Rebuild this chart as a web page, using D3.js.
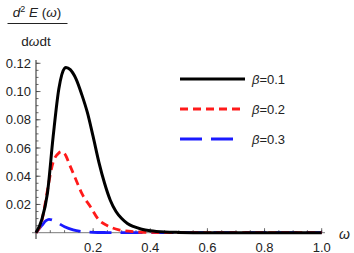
<!DOCTYPE html>
<html><head><meta charset="utf-8">
<script src="https://cdn.jsdelivr.net/npm/d3@7"></script>
<style>
body{margin:0;background:#fff;}
text{font-family:"Liberation Sans",Arial,sans-serif;}
</style></head>
<body><svg id="c" width="354" height="253"></svg>
<script>
const omega1 = [0,0.02,0.04,0.06,0.08,0.10,0.105,0.12,0.14,0.16,0.18,0.20,0.22,0.24,0.26,0.28,0.30,0.32,0.34,0.37,0.40,0.45,0.50,0.60,0.80,1.0];
const beta01 = [0,0.009,0.028,0.068,0.102,0.1165,0.117,0.1155,0.109,0.098,0.085,0.068,0.050,0.035,0.023,0.015,0.010,0.0065,0.0044,0.0025,0.0014,0.0005,0.0002,0,0,0];
const omega2 = [0,0.02,0.028,0.04,0.06,0.08,0.09,0.10,0.12,0.145,0.16,0.19,0.22,0.25,0.29,0.35,0.40,0.50,0.70,1.0];
const beta02 = [0,0.008,0.016,0.030,0.050,0.0565,0.0574,0.056,0.047,0.035,0.028,0.0185,0.009,0.005,0.002,0.0006,0.0002,0,0,0];
const omega3 = [0,0.02,0.035,0.0455,0.06,0.08,0.10,0.13,0.16,0.20,0.25,0.30,0.60,1.0];
const beta03 = [0,0.005,0.0085,0.0095,0.0088,0.0065,0.0042,0.002,0.0009,0.0003,0.0001,0,0,0];
const xTicks = [0.2,0.4,0.6,0.8,1.0];
const yTicks = [0.02,0.04,0.06,0.08,0.10,0.12];
const legendLabels = ["0.1","0.2","0.3"];

const svg = d3.select("#c");
const x = d3.scaleLinear().domain([0,1]).range([36,321.7]);
const y = d3.scaleLinear().domain([0,0.12]).range([232.7,63.3]);

// axes lines
svg.append("line").attr("x1",32).attr("x2",325).attr("y1",y(0)).attr("y2",y(0)).attr("stroke","#7a7a7a").attr("stroke-width",1);
svg.append("line").attr("x1",x(0)).attr("x2",x(0)).attr("y1",239).attr("y2",60).attr("stroke","#222").attr("stroke-width",1);

// x ticks
const xMinor = d3.range(0.05,1.001,0.05);
svg.selectAll(".xm").data(xMinor).enter().append("line")
  .attr("x1",d=>x(d)).attr("x2",d=>x(d)).attr("y1",y(0)).attr("y2",y(0)-2.5)
  .attr("stroke","#444").attr("stroke-width",0.8);
svg.selectAll(".xM").data(xTicks).enter().append("line")
  .attr("x1",d=>x(d)).attr("x2",d=>x(d)).attr("y1",y(0)).attr("y2",y(0)-4.5)
  .attr("stroke","#444").attr("stroke-width",0.8);
svg.selectAll(".xl").data(xTicks).enter().append("text")
  .attr("x",d=>x(d)).attr("y",251.5).attr("text-anchor","middle")
  .attr("font-size",13).attr("fill","#222").text(d=>d3.format(".1f")(d));

// y ticks
const yMinor = d3.range(0.005,0.1201,0.005);
svg.selectAll(".ym").data(yMinor).enter().append("line")
  .attr("x1",x(0)).attr("x2",x(0)+2.5).attr("y1",d=>y(d)).attr("y2",d=>y(d))
  .attr("stroke","#444").attr("stroke-width",0.8);
svg.selectAll(".yM").data(yTicks).enter().append("line")
  .attr("x1",x(0)).attr("x2",x(0)+4.5).attr("y1",d=>y(d)).attr("y2",d=>y(d))
  .attr("stroke","#444").attr("stroke-width",0.8);
svg.selectAll(".yl").data(yTicks).enter().append("text")
  .attr("x",31).attr("y",d=>y(d)+4.5).attr("text-anchor","end")
  .attr("font-size",13).attr("fill","#222").text(d=>d3.format(".2f")(d));

// curves
const series = [
  {w:omega1,v:beta01,color:"#000",dash:null,width:3,len:65},
  {w:omega2,v:beta02,color:"#ff1a1a",dash:"8,5",width:2.8,len:61},
  {w:omega3,v:beta03,color:"#1a1aff",dash:"22,9",width:2.8,len:54}
];
const line = d3.line().x(d=>x(d[0])).y(d=>y(d[1])).curve(d3.curveMonotoneX);
series.slice().reverse().forEach(s=>{
  svg.append("path").datum(s.w.map((w,i)=>[w,s.v[i]]))
    .attr("d",line).attr("fill","none").attr("stroke",s.color)
    .attr("stroke-width",s.width).attr("stroke-dasharray",s.dash);
});

// legend
series.forEach((s,i)=>{
  const ly = 79 + i*30;
  svg.append("line").attr("x1",180).attr("x2",180+s.len).attr("y1",ly).attr("y2",ly)
    .attr("stroke",s.color).attr("stroke-width",s.width).attr("stroke-dasharray",s.dash);
  const t = svg.append("text").attr("x",252).attr("y",ly+4.5).attr("font-size",13).attr("fill","#222");
  t.append("tspan").attr("font-style","italic").text("β");
  t.append("tspan").text("="+legendLabels[i]);
});

// axis labels
svg.append("text").attr("x",339).attr("y",239).attr("font-size",14).attr("font-style","italic").attr("fill","#222").text("ω");
const numer = svg.append("text").attr("x",37).attr("y",16.5).attr("text-anchor","middle").attr("font-size",13.5).attr("fill","#222");
numer.append("tspan").attr("font-style","italic").text("d");
numer.append("tspan").attr("font-size",9).attr("dy",-5).text("2");
numer.append("tspan").attr("dy",5).text(" ");
numer.append("tspan").attr("font-style","italic").text("E");
numer.append("tspan").text(" (");
numer.append("tspan").attr("font-style","italic").text("ω");
numer.append("tspan").text(")");
svg.append("line").attr("x1",7.5).attr("x2",67.5).attr("y1",23.5).attr("y2",23.5).attr("stroke","#222").attr("stroke-width",1);
const denom = svg.append("text").attr("x",36).attr("y",46).attr("text-anchor","middle").attr("font-size",13.5).attr("fill","#222");
denom.append("tspan").text("d");
denom.append("tspan").attr("font-style","italic").text("ω");
denom.append("tspan").text("dt");
</script></body></html>
